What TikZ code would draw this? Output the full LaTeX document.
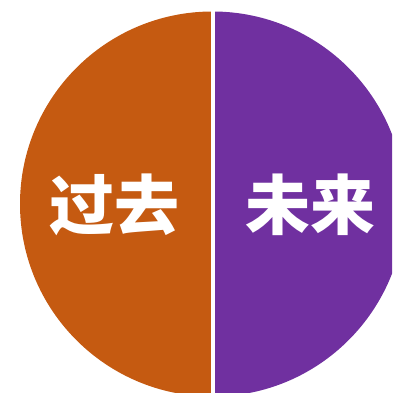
\documentclass[tikz,border=0pt]{standalone}
\usepackage{fontspec}
\newfontfamily\cjk{Noto Sans CJK SC}
\definecolor{pastc}{HTML}{C55A11}
\definecolor{futc}{HTML}{7030A0}
\begin{document}
\begin{tikzpicture}[x=1pt,y=1pt,
  label/.style={text=white,font=\cjk\bfseries\fontsize{65}{67}\selectfont,inner sep=0pt}]
\useasboundingbox (0,0) rectangle (392,393);
\clip (0,0) rectangle (392,393);
\coordinate (c) at (212.5,189);
\fill[pastc] (c) ++(0,192.5) arc (90:270:192.5) -- cycle;
\fill[futc] (c) ++(0,192.5) arc (90:-90:192.5) -- cycle;
\draw[white,line width=4pt] (212.5,-10) -- (212.5,400);
\node[label] (past) at (114,188) {过去};
\node[label] (future) at (310,188) {未来};
\end{tikzpicture}
\end{document}
